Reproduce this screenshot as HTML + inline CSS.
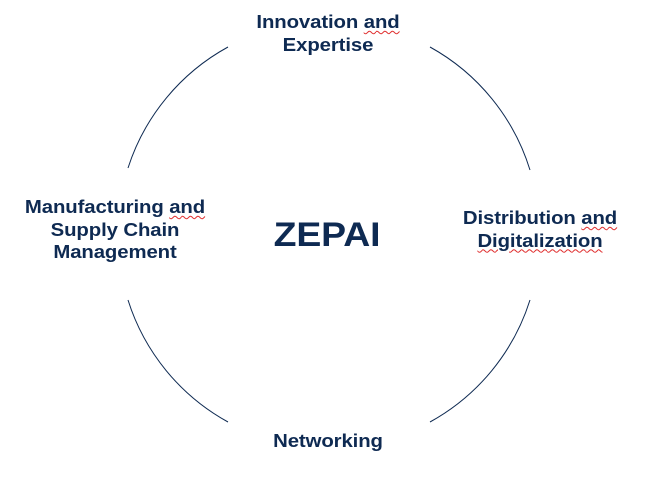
<!DOCTYPE html>
<html><head><style>
body{margin:0;width:650px;height:483px;background:#fff;position:relative;overflow:hidden;font-family:"Liberation Sans",Arial,sans-serif;color:#0e2a52}
.t{position:absolute;font-weight:bold;font-size:18.5px;line-height:22.5px;text-align:center;white-space:nowrap;transform:scaleX(1.1);letter-spacing:-0.1px}
.u{text-decoration:underline wavy #e03030;text-decoration-thickness:1px;text-underline-offset:2px}
</style></head><body>
<svg width="650" height="483" style="position:absolute;left:0;top:0">
<g fill="none" stroke="#0e2a52" stroke-width="1">
<path d="M128,168 A212,212 0 0 1 228,47"/>
<path d="M430,47 A212,212 0 0 1 530,170"/>
<path d="M530,300 A212,212 0 0 1 430,422"/>
<path d="M228,422 A212,212 0 0 1 128,300"/>
</g></svg>
<div class="t" style="left:178px;width:300px;top:11px">Innovation <span class="u">and</span><br>Expertise</div>
<div class="t" style="left:-35px;width:300px;top:196px">Manufacturing <span class="u">and</span><br>Supply Chain<br>Management</div>
<div class="t" style="left:390px;width:300px;top:207px">Distribution <span class="u">and</span><br><span class="u">Digitalization</span></div>
<div class="t" style="left:178px;width:300px;top:430px">Networking</div>
<div class="t" style="left:177px;width:300px;top:214px;font-size:34px;line-height:42px">ZEPAI</div>
</body></html>
